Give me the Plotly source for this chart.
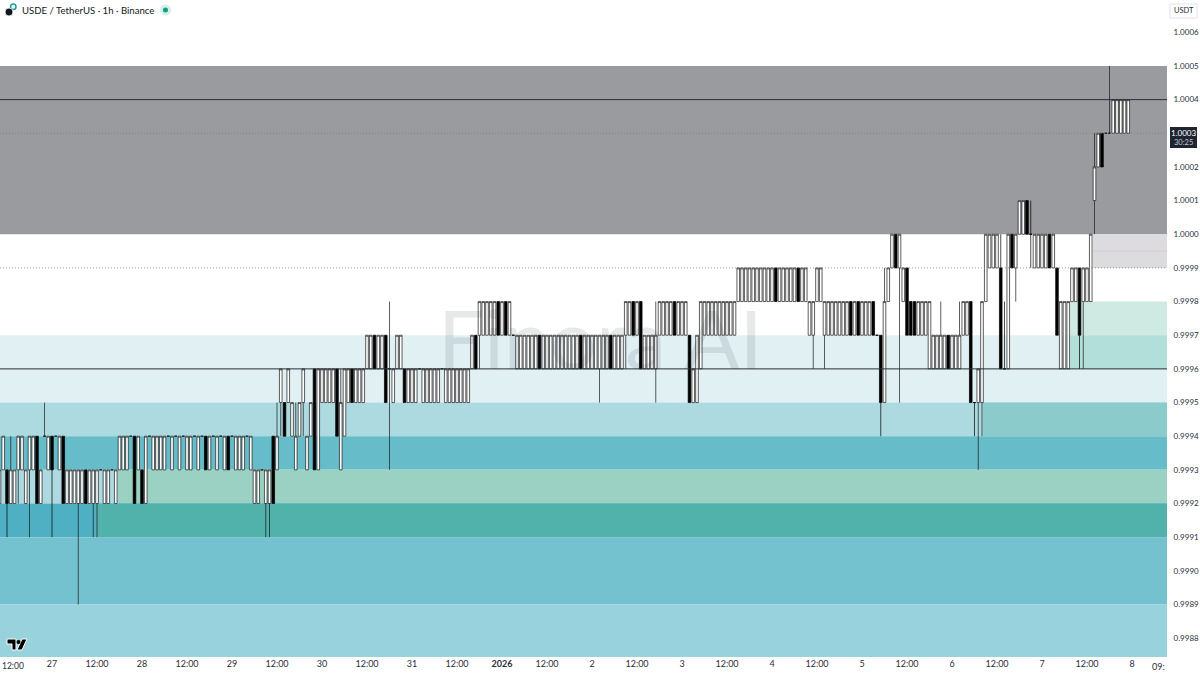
import pandas as pd
import plotly.graph_objects as go

# prices in 1/10000 units, one candle per hour from 26 Dec 10:00
opens = [
    9992, 9993, 9993, 9992, 9992, 9993, 9993, 9992, 9993, 9993,
    9994, 9992, 9994, 9993, 9994, 9994, 9993, 9994, 9992, 9992,
    9992, 9992, 9992, 9993, 9992, 9992, 9992, 9993, 9992, 9992,
    9993, 9992, 9993, 9993, 9993, 9994, 9994, 9993, 9993, 9992,
    9994, 9993, 9993, 9993, 9993, 9994, 9993, 9994, 9993, 9994,
    9993, 9993, 9994, 9993, 9994, 9994, 9993, 9994, 9993, 9994,
    9993, 9994, 9994, 9993, 9993, 9993, 9994, 9993, 9992, 9992,
    9993, 9992, 9992, 9994, 9993, 9995, 9995, 9995, 9994, 9993,
    9994, 9995, 9993, 9994, 9996, 9993, 9995, 9995, 9995, 9995,
    9996, 9993, 9994, 9995, 9996, 9995, 9995, 9995, 9996, 9996,
    9997, 9996, 9996, 9997, 9996, 9995, 9996, 9996, 9996, 9995,
    9995, 9995, 9996, 9995, 9995, 9995, 9995, 9995, 9996, 9995,
    9995, 9995, 9995, 9995, 9995, 9995, 9996, 9997, 9997, 9997,
    9997, 9997, 9997, 9998, 9997, 9998, 9997, 9997, 9996, 9996,
    9996, 9996, 9996, 9996, 9997, 9996, 9996, 9996, 9996, 9996,
    9996, 9996, 9996, 9996, 9996, 9997, 9996, 9996, 9996, 9996,
    9996, 9996, 9996, 9997, 9996, 9996, 9996, 9997, 9997, 9998,
    9997, 9998, 9996, 9996, 9996, 9996, 9997, 9997, 9997, 9997,
    9998, 9997, 9997, 9997, 9997, 9995, 9995, 9996, 9997, 9997,
    9997, 9997, 9997, 9997, 9997, 9997, 9997, 9998, 9998, 9998,
    9998, 9998, 9998, 9998, 9998, 9998, 9998, 9999, 9998, 9998,
    9998, 9998, 9998, 9999, 9998, 9998, 9997, 9997, 9998, 9998,
    9997, 9997, 9997, 9997, 9997, 9997, 9997, 9998, 9997, 9998,
    9997, 9997, 9997, 9998, 9997, 9997, 9995, 9998, 9999, 10000,
    9999, 9998, 9999, 9998, 9998, 9997, 9997, 9997, 9996, 9996,
    9996, 9996, 9996, 9997, 9996, 9996, 9996, 9997, 9997, 9998,
    9995, 9995, 9995, 9998, 9999, 9999, 9999, 9999, 9996, 9996,
    10000, 9999, 10000, 10000, 10001, 10000, 9999, 9999, 9999, 9999,
    10000, 9999, 9999, 9996, 9996, 9996, 9998, 9998, 9999, 9998,
    9998, 9998, 10001, 10002, 10003, 10003, 10003, 10003, 10003, 10003, 10003, 10003,
]
closes = [
    9993, 9994, 9992, 9993, 9993, 9994, 9994, 9993, 9994, 9994,
    9992, 9993, 9994, 9994, 9993, 9994, 9994, 9992, 9993, 9993,
    9993, 9993, 9993, 9992, 9993, 9993, 9993, 9993, 9993, 9993,
    9993, 9993, 9994, 9994, 9994, 9994, 9992, 9994, 9992, 9994,
    9994, 9994, 9994, 9994, 9994, 9994, 9994, 9994, 9994, 9994,
    9994, 9994, 9994, 9994, 9994, 9993, 9994, 9994, 9994, 9994,
    9994, 9993, 9994, 9994, 9994, 9994, 9994, 9994, 9993, 9993,
    9993, 9993, 9993, 9992, 9994, 9996, 9994, 9996, 9995, 9994,
    9995, 9996, 9994, 9995, 9993, 9996, 9996, 9996, 9996, 9996,
    9994, 9995, 9996, 9996, 9995, 9996, 9996, 9996, 9997, 9997,
    9996, 9997, 9997, 9995, 9996, 9996, 9997, 9997, 9995, 9996,
    9996, 9996, 9996, 9996, 9996, 9996, 9996, 9996, 9996, 9996,
    9996, 9996, 9996, 9996, 9996, 9996, 9997, 9996, 9998, 9998,
    9998, 9998, 9998, 9997, 9998, 9997, 9998, 9997, 9997, 9997,
    9997, 9997, 9997, 9997, 9996, 9997, 9997, 9997, 9997, 9997,
    9997, 9997, 9997, 9997, 9997, 9996, 9997, 9997, 9997, 9997,
    9997, 9997, 9997, 9996, 9997, 9997, 9997, 9998, 9998, 9997,
    9998, 9996, 9997, 9997, 9997, 9997, 9998, 9998, 9998, 9998,
    9997, 9998, 9998, 9998, 9995, 9996, 9997, 9998, 9998, 9998,
    9998, 9998, 9998, 9998, 9998, 9998, 9998, 9999, 9999, 9999,
    9999, 9999, 9999, 9999, 9999, 9999, 9999, 9998, 9999, 9999,
    9999, 9999, 9999, 9998, 9999, 9999, 9998, 9998, 9999, 9999,
    9998, 9998, 9998, 9998, 9998, 9998, 9998, 9997, 9998, 9997,
    9998, 9998, 9998, 9997, 9997, 9995, 9998, 9999, 10000, 9999,
    10000, 9999, 9997, 9997, 9997, 9998, 9998, 9998, 9998, 9997,
    9997, 9997, 9997, 9996, 9997, 9997, 9997, 9998, 9998, 9995,
    9995, 9996, 9998, 10000, 10000, 10000, 10000, 9996, 9996, 10000,
    9999, 10000, 10001, 10001, 10000, 10000, 10000, 10000, 10000, 10000,
    9999, 10000, 9997, 9998, 9998, 9998, 9999, 9999, 9997, 9999,
    9999, 10000, 10002, 10003, 10002, 10003, 10003, 10004, 10004, 10004, 10004, 10004,
]
# only the candles with a wick, candle number -> tip
wick_highs = {3: 9994, 12: 9995, 74: 9995, 79: 9995, 91: 9996, 104: 9998, 175: 9998, 236: 9999,
              251: 9998, 256: 9998, 267: 10000, 268: 9998, 275: 10001, 292: 10003, 296: 10005}
wick_lows = {2: 9991, 5: 9992, 8: 9991, 14: 9991, 21: 9989, 25: 9991, 26: 9991, 71: 9991, 72: 9991,
             75: 9994, 81: 9994, 104: 9993, 128: 9996, 160: 9995, 167: 9996, 175: 9995, 217: 9996,
             220: 9996, 235: 9994, 240: 9995, 260: 9994, 261: 9993, 262: 9994, 268: 9996, 271: 9998,
             275: 9999, 288: 9996, 289: 9996, 292: 10000}

zone_lows = [1.0000, 0.9995, 0.9994, 0.9993, 0.9992, 0.9992, 0.9991, 0.9991, 0.9989, 0.9987,
             0.9999, 0.9997, 0.9996, 0.9994]
zone_highs = [1.0005, 0.9997, 0.9995, 0.9994, 0.9993, 0.9993, 0.9992, 0.9992, 0.9991, 0.9989,
              1.0000, 0.9998, 0.9997, 0.9995]
zone_starts = ["2025-12-26", "2025-12-26", "2025-12-26", "2025-12-26", "2025-12-26", "2025-12-27 17:36",
               "2025-12-26", "2025-12-27 12:00", "2025-12-26", "2025-12-26",
               "2026-01-07 13:36", "2026-01-07 07:30", "2026-01-07 07:30", "2026-01-06 08:18"]
zone_colors = ["#9a9b9e", "#e0f0f3", "#add9e0", "#66bcc9", "#add9e0", "#9ad1c2",
               "#4fb0c3", "#50b2ab", "#74c1cf", "#98d2dc",
               "#dcdcde", "#cfeae3", "#b3dfdb", "#8ccbcb"]

price_ticks = [0.9988, 0.9989, 0.9990, 0.9991, 0.9992, 0.9993, 0.9994, 0.9995, 0.9996, 0.9997,
               0.9998, 0.9999, 1.0000, 1.0001, 1.0002, 1.0004, 1.0005, 1.0006]
time_ticks = ["2025-12-27", "2025-12-27 12:00", "2025-12-28", "2025-12-28 12:00",
              "2025-12-29", "2025-12-29 12:00", "2025-12-30", "2025-12-30 12:00", "2025-12-31",
              "2025-12-31 12:00", "2026-01-01", "2026-01-01 12:00", "2026-01-02", "2026-01-02 12:00",
              "2026-01-03", "2026-01-03 12:00", "2026-01-04", "2026-01-04 12:00", "2026-01-05",
              "2026-01-05 12:00", "2026-01-06", "2026-01-06 12:00", "2026-01-07", "2026-01-07 12:00",
              "2026-01-08"]
time_labels = ["27", "12:00", "28", "12:00", "29", "12:00", "30", "12:00", "31", "12:00",
               "<b>2026</b>", "12:00", "2", "12:00", "3", "12:00", "4", "12:00", "5", "12:00", "6",
               "12:00", "7", "12:00", "8"]

PLOT_W = 1167
PLOT_H = 657
X_START = "2025-12-26 10:08"
X_END = "2026-01-08 09:20"
TEXT = "#2a2e39"
FONT = "Lato"


def px(x):
    return x / PLOT_W


def py(y):
    return 1 - y / PLOT_H


def pixel_path(points):
    return "M " + " L ".join(f"{px(x)} {py(y)}" for x, y in points) + " Z"


def label(fig, x, y, text, size, color=TEXT, anchor="left"):
    fig.add_annotation(xref="paper", yref="paper", x=px(x), y=py(y), text=text, showarrow=False,
                       xanchor=anchor, yanchor="middle", font=dict(family=FONT, size=size, color=color))


times = pd.date_range("2025-12-26 10:00", periods=len(opens), freq="h")
highs = [max(o, c, wick_highs.get(i, 0)) / 10000 for i, (o, c) in enumerate(zip(opens, closes))]
lows = [min(o, c, wick_lows.get(i, 99999)) / 10000 for i, (o, c) in enumerate(zip(opens, closes))]

fig = go.Figure(go.Candlestick(
    x=times,
    open=[o / 10000 for o in opens],
    high=highs,
    low=lows,
    close=[c / 10000 for c in closes],
    increasing=dict(line=dict(color="#1a1a1a", width=0.7), fillcolor="#ffffff"),
    decreasing=dict(line=dict(color="#000000", width=0.7), fillcolor="#000000"),
    whiskerwidth=0,
    hoverinfo="skip",
    showlegend=False,
))

for low, high, start, color in zip(zone_lows, zone_highs, zone_starts, zone_colors):
    fig.add_shape(type="rect", xref="x", yref="y", x0=start, x1=X_END, y0=low, y1=high,
                  fillcolor=color, line_width=0, layer="below")

# faint midline of the grey box
fig.add_shape(type="line", xref="x", yref="y", x0="2026-01-07 13:36", x1=X_END, y0=0.99995, y1=0.99995,
              line=dict(color="#d4c8dc", width=1), layer="below")
for level in [1.0004, 0.9996]:
    fig.add_hline(y=level, line=dict(color="#2a2e39", width=1))
for level in [1.0003, 0.9999]:
    fig.add_hline(y=level, line=dict(color="#787b86", width=0.8, dash="1px,2px"))

fig.update_layout(
    width=1200,
    height=675,
    margin=dict(l=0, r=33, t=0, b=18),
    paper_bgcolor="#ffffff",
    plot_bgcolor="#ffffff",
    font=dict(family=FONT, size=8, color=TEXT),
    boxgap=0.22,
    boxgroupgap=0.1,
    xaxis=dict(range=[X_START, X_END], rangeslider_visible=False, showgrid=False, zeroline=False,
               tickmode="array", tickvals=time_ticks, ticktext=time_labels, ticks="", tickangle=0,
               tickfont=dict(size=9, color=TEXT)),
    yaxis=dict(range=[0.998744, 1.000696], side="right", showgrid=False, zeroline=False,
               tickmode="array", tickvals=price_ticks, ticktext=[f"{v:.4f}" for v in price_ticks],
               ticks="outside", ticklen=4, tickcolor="rgba(0,0,0,0)", tickfont=dict(size=8, color=TEXT)),
)

# watermark
fig.add_annotation(xref="paper", yref="paper", x=px(600), y=py(337), text="Finora AI", showarrow=False,
                   font=dict(family="Lato", size=82, color="rgba(40,45,60,0.11)"))

# header
label(fig, 20, 10, "USDE / TetherUS · 1h · Binance", 9.6, "#131722")
fig.add_shape(type="circle", xref="paper", yref="paper", x0=px(10.5), x1=px(16), y0=py(9.5), y1=py(4),
              fillcolor="#ffffff", line=dict(color="#1f9e96", width=1.5))
fig.add_shape(type="circle", xref="paper", yref="paper", x0=px(5), x1=px(13), y0=py(16), y1=py(8),
              fillcolor="#131722", line=dict(color="#ffffff", width=0.8))
fig.add_shape(type="circle", xref="paper", yref="paper", x0=px(160), x1=px(171), y0=py(15.5), y1=py(4.5),
              fillcolor="#d5efe9", line_width=0)
fig.add_shape(type="circle", xref="paper", yref="paper", x0=px(163), x1=px(168), y0=py(12.5), y1=py(7.5),
              fillcolor="#1a9a86", line_width=0)

# TradingView mark
for mark in ([(7, 639), (16, 639), (16, 650), (12, 650), (12, 644), (7, 644)],
             [(22, 639), (27, 639), (22, 650), (17, 650)]):
    fig.add_shape(type="path", xref="paper", yref="paper", path=pixel_path(mark),
                  fillcolor="#000000", line=dict(color="#ffffff", width=1))
fig.add_shape(type="circle", xref="paper", yref="paper", x0=px(16.5), x1=px(20.5), y0=py(644), y1=py(640),
              fillcolor="#000000", line_width=0)

# price scale badges
fig.add_shape(type="rect", xref="paper", yref="paper", x0=px(1170), x1=px(1197), y0=py(18), y1=py(4),
              fillcolor="#ffffff", line=dict(color="#e0e3eb", width=1))
label(fig, 1183.5, 11, "USDT", 7.5, anchor="center")
fig.add_shape(type="rect", xref="paper", yref="paper", x0=px(1170), x1=px(1197), y0=py(148), y1=py(127),
              fillcolor="#1f2433", line_width=0)
label(fig, 1183.5, 133, "1.0003", 8, "#ffffff", "center")
label(fig, 1183.5, 142, "30:25", 7.5, "#c5c8d0", "center")
# labels at the chart edges
label(fig, 0, 666, "12:00", 8.5, TEXT, "left")
label(fig, 1167, 666, "09:", 9, TEXT, "right")

fig.write_html("out.html", config={"displayModeBar": False}, post_script="document.body.style.margin='0';")
